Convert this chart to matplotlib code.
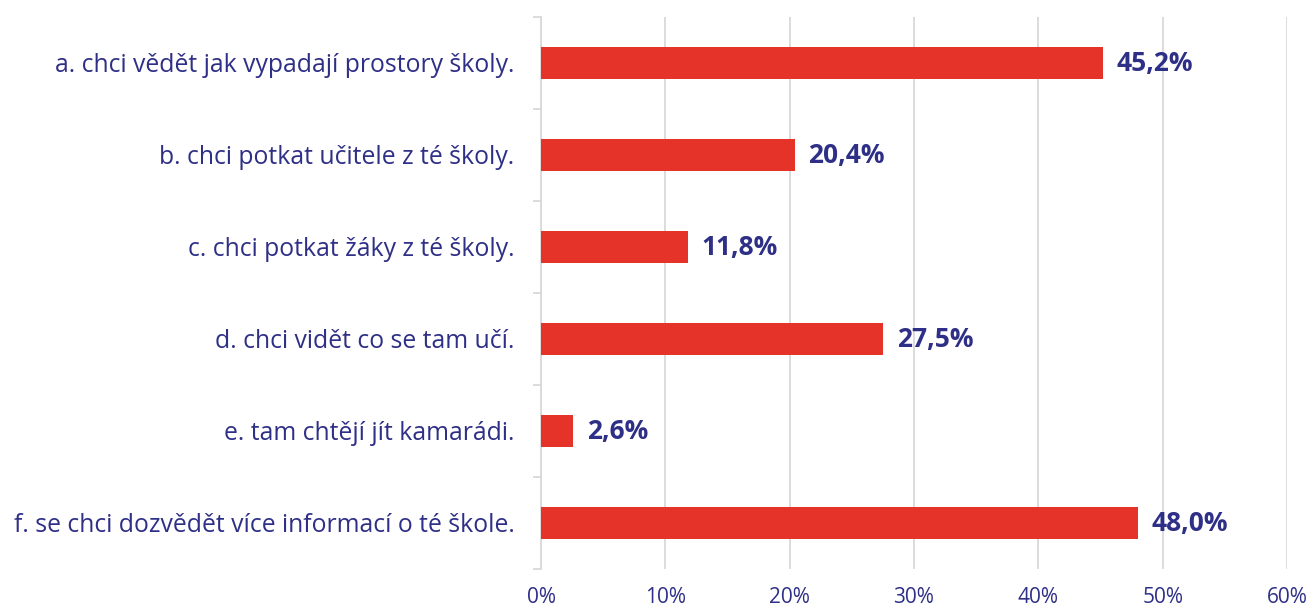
import numpy as np
import matplotlib.pyplot as plt

labels = ["a. chci vědět jak vypadají prostory školy.",
          "b. chci potkat učitele z té školy.",
          "c. chci potkat žáky z té školy.",
          "d. chci vidět co se tam učí.",
          "e. tam chtějí jít kamarádi.",
          "f. se chci dozvědět více informací o té škole."]
values = [45.2, 20.4, 11.8, 27.5, 2.6, 48.0]
xticks = [0, 10, 20, 30, 40, 50, 60]

red = '#E5332A'
navy = '#2E2F86'
grey = '#D9D9D9'

plt.rcParams['font.family'] = ['Open Sans', 'DejaVu Sans']

fig = plt.figure(figsize=(13.11, 6.08), dpi=100)
ax = fig.add_axes([541/1311, 1-569/608, (1287-541)/1311, (569-17)/608])

y = np.arange(len(labels))
ax.barh(y, values, height=0.355, color=red, zorder=3)
for yi, v in zip(y, values):
    ax.text(v + 1.1, yi, f"{v:.1f}%".replace('.', ','), va='center', ha='left',
            color=navy, fontsize=19, fontweight='bold', zorder=4)

ax.set_xlim(0, 60)
ax.set_ylim(len(labels) - 0.5, -0.5)
ax.set_xticks(xticks)
ax.set_xticklabels([f"{t}%" for t in xticks])
ax.set_yticks(y)
ax.set_yticklabels(labels)
ax.set_yticks(np.arange(-0.5, len(labels), 1), minor=True)

ax.grid(axis='x', color=grey, linewidth=1.3, zorder=0)
for s in ['top', 'right', 'bottom']:
    ax.spines[s].set_visible(False)
ax.spines['left'].set_color(grey)
ax.spines['left'].set_linewidth(1.3)

ax.tick_params(axis='x', length=0, pad=13, labelsize=15, labelcolor=navy)
ax.tick_params(axis='y', which='major', length=0, pad=19, labelsize=17.8, labelcolor=navy)
ax.tick_params(axis='y', which='minor', length=6, width=1.3, color=grey)

fig.savefig('out.png', dpi=100)
